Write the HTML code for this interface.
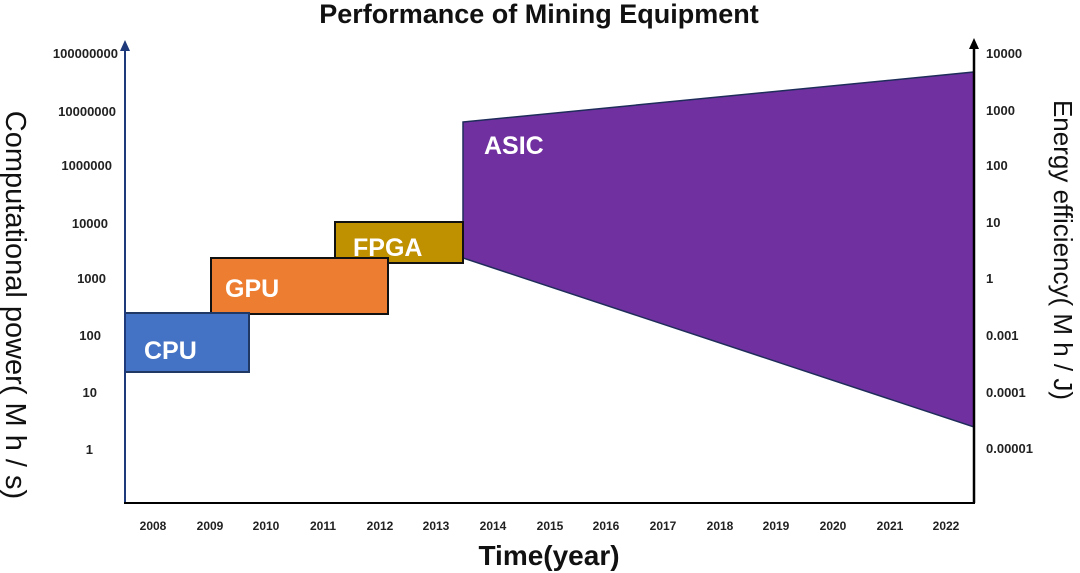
<!DOCTYPE html>
<html><head><style>body{margin:0;background:#fff}svg{display:block}text{font-family:"Liberation Sans",sans-serif}</style></head><body>
<svg width="1080" height="573" viewBox="0 0 1080 573">
<text x="539" y="23" text-anchor="middle" font-size="27" font-weight="bold" fill="#111">Performance of Mining Equipment</text>
<polygon points="463,122 974,72 974,427 463,258" fill="#7030a0" stroke="#1f2d5a" stroke-width="1.5"/>
<rect x="335" y="222" width="128" height="41" fill="#bf9000" stroke="#111" stroke-width="2"/>
<rect x="211" y="258" width="177" height="56" fill="#ed7d31" stroke="#111" stroke-width="2"/>
<rect x="125" y="313" width="124" height="59" fill="#4472c4" stroke="#1f3864" stroke-width="2"/>
<g font-weight="bold" fill="#fff" font-size="25">
<text x="144" y="359">CPU</text><text x="225" y="297">GPU</text><text x="353" y="256">FPGA</text><text x="484" y="154">ASIC</text></g>
<line x1="125" y1="503" x2="125" y2="48" stroke="#1f3a7a" stroke-width="2"/>
<polygon points="125,40 120,51 130,51" fill="#1f3a7a"/>
<line x1="974" y1="503" x2="974" y2="46" stroke="#000" stroke-width="2.5"/>
<polygon points="974,38 969,49 979,49" fill="#000"/>
<line x1="124" y1="503" x2="975" y2="503" stroke="#000" stroke-width="2"/>
<g font-size="13" font-weight="bold" fill="#222" text-anchor="end">
<text x="118" y="58">100000000</text><text x="116" y="116">10000000</text><text x="112" y="170">1000000</text><text x="108" y="228">10000</text><text x="106" y="283">1000</text><text x="101" y="340">100</text><text x="97" y="397">10</text><text x="93" y="454">1</text></g>
<g font-size="13" font-weight="bold" fill="#222">
<text x="986" y="58">10000</text><text x="986" y="115">1000</text><text x="986" y="170">100</text><text x="986" y="227">10</text><text x="986" y="283">1</text><text x="986" y="340">0.001</text><text x="986" y="397">0.0001</text><text x="986" y="453">0.00001</text></g>
<g font-size="12" font-weight="bold" fill="#222" text-anchor="middle">
<text x="153" y="530">2008</text><text x="210" y="530">2009</text><text x="266" y="530">2010</text><text x="323" y="530">2011</text><text x="380" y="530">2012</text><text x="436" y="530">2013</text><text x="493" y="530">2014</text><text x="550" y="530">2015</text><text x="606" y="530">2016</text><text x="663" y="530">2017</text><text x="720" y="530">2018</text><text x="776" y="530">2019</text><text x="833" y="530">2020</text><text x="890" y="530">2021</text><text x="946" y="530">2022</text></g>
<text x="549" y="565" text-anchor="middle" font-size="28" font-weight="bold" fill="#111">Time(year)</text>
<text transform="translate(6,305) rotate(90)" text-anchor="middle" font-size="29" fill="#111">Computational power( M h / s)</text>
<text transform="translate(1054,250) rotate(90)" text-anchor="middle" font-size="26" fill="#111">Energy efficiency( M h / J)</text>
</svg></body></html>
